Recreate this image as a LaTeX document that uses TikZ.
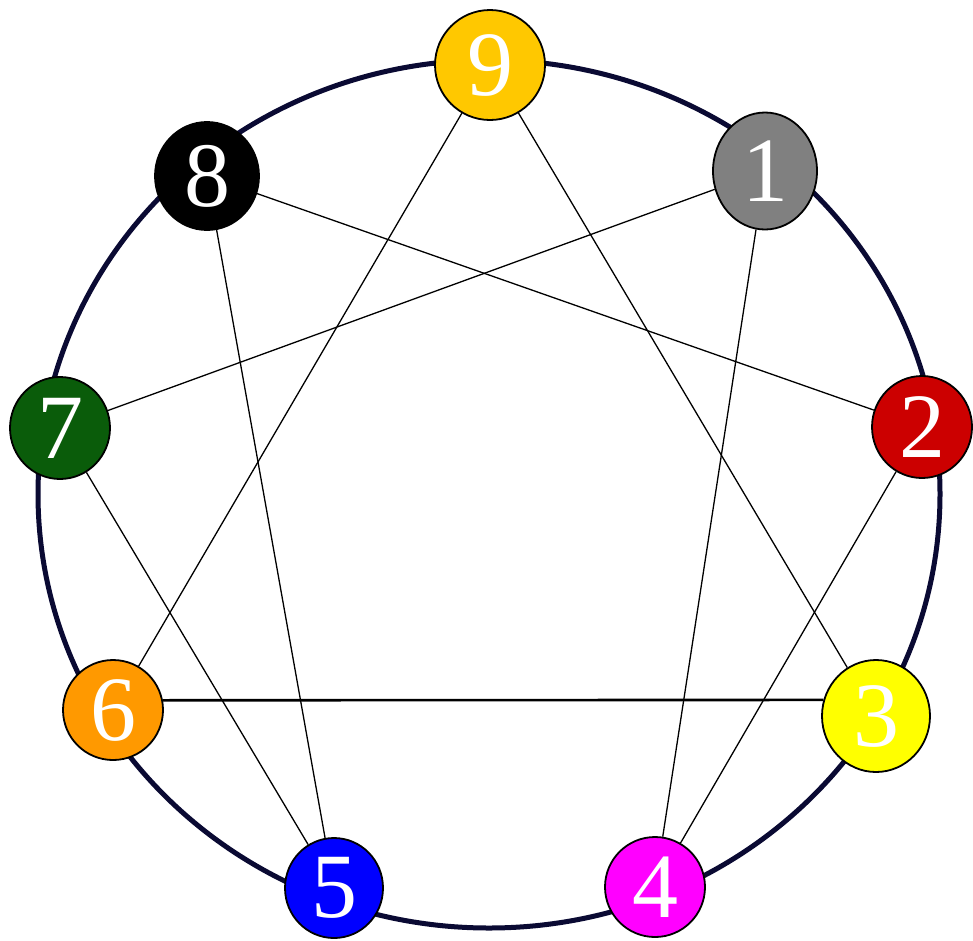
\documentclass[tikz,border=0pt]{standalone}
\usepackage{fontspec}
\setmainfont{Liberation Serif}
\usetikzlibrary{shapes.geometric}
\definecolor{ring}{HTML}{0A0A33}
\definecolor{c9}{HTML}{FFC800}
\definecolor{c1}{HTML}{808080}
\definecolor{c2}{HTML}{CC0000}
\definecolor{c3}{HTML}{FFFF00}
\definecolor{c4}{HTML}{FF00FF}
\definecolor{c5}{HTML}{0000FF}
\definecolor{c6}{HTML}{FF9900}
\definecolor{c7}{HTML}{0A5C0A}
\definecolor{c8}{HTML}{000000}
\tikzset{
  pt/.style={ellipse, draw=black, line width=1.8pt, inner sep=0pt,
    text=white, font=\fontsize{92}{92}\selectfont},
  link/.style={draw=black, line width=1.3pt},
  bold link/.style={draw=black, line width=2.6pt}
}
\begin{document}
\begin{tikzpicture}[x=1pt,y=-1pt]
\useasboundingbox (0,0) rectangle (973,940);
\fill[white] (0,0) rectangle (973,940);
\draw[ring, line width=5pt] (489,494) ellipse [x radius=451, y radius=434];
\node[pt, fill=c9, minimum width=110pt, minimum height=110pt] (n9) at (490,65) {9};
\node[pt, fill=c1, minimum width=104pt, minimum height=117pt] (n1) at (765,171) {1};
\node[pt, fill=c8, minimum width=104pt, minimum height=108pt] (n8) at (207,176) {8};
\node[pt, fill=c7, minimum width=100pt, minimum height=102pt] (n7) at (60,428) {7};
\node[pt, fill=c2, minimum width=100pt, minimum height=102pt] (n2) at (922,427) {2};
\node[pt, fill=c6, minimum width=100pt, minimum height=100pt] (n6) at (113,710) {6};
\node[pt, fill=c3, minimum width=108pt, minimum height=112pt] (n3) at (876,716) {3};
\node[pt, fill=c5, minimum width=98pt, minimum height=100pt] (n5) at (334,888) {5};
\node[pt, fill=c4, minimum width=100pt, minimum height=100pt] (n4) at (655,887) {4};
\draw[link] (n9) -- (n6);
\draw[link] (n9) -- (n3);
\draw[bold link] (n6.11) -- (n3.163);
\draw[link] (n1) -- (n4);
\draw[link] (n4) -- (n2);
\draw[link] (n2) -- (n8);
\draw[link] (n8) -- (n5);
\draw[link] (n5) -- (n7);
\draw[link] (n7) -- (n1);
\end{tikzpicture}
\end{document}
